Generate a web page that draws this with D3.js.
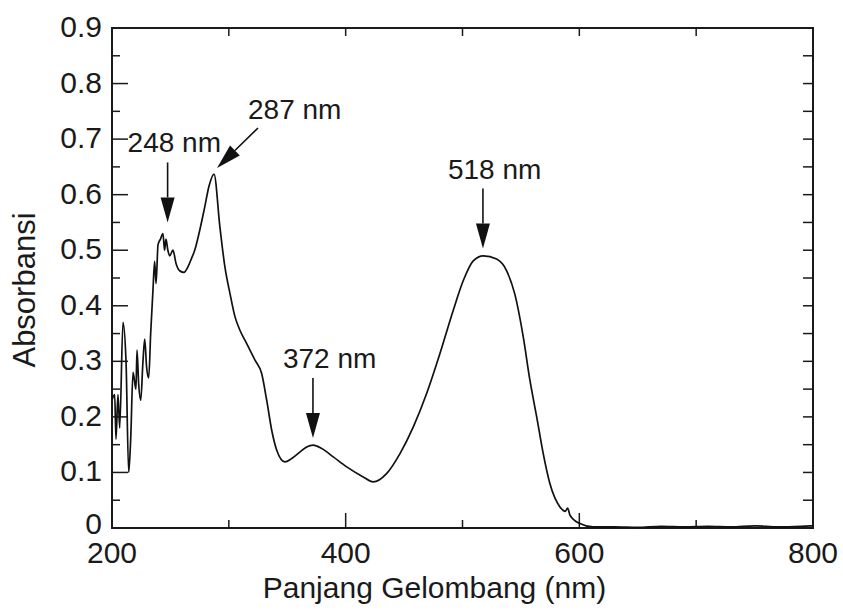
<!DOCTYPE html>
<html>
<head>
<meta charset="utf-8">
<title>Absorbansi</title>
<style>
body { margin: 0; background: #fff; }
text { font-family: "Liberation Sans", Arial, sans-serif; fill: #1a1a1a; }
.frame { fill: none; stroke: #1a1a1a; stroke-width: 2px; }
.tick { stroke: #1a1a1a; stroke-width: 1.5px; }
.spectrum { fill: none; stroke: #111; stroke-width: 1.7px; stroke-linejoin: round; }
.arrow { stroke: #111; stroke-width: 1.6px; }
</style>
</head>
<body>
<script src="https://cdnjs.cloudflare.com/ajax/libs/d3/7.8.5/d3.min.js"></script>
<script>

// spectrum
var wavelength = [200, 202.3, 203.4, 205.1, 206.6, 209.4, 212, 214.3, 216, 218, 220.5, 221.4, 222.8, 224.6, 226.5, 228, 229.6, 231.4,
  233.1, 235.1, 236.5, 237.7, 239.4, 241.5, 243.6, 245, 246.2, 247.8, 249.4, 252.2, 254.8, 257.9, 261.6, 265, 268,
  270.8, 275, 279.3, 283, 287.3, 292.4, 296.7, 301, 305.3, 309.5, 315.3, 322.4, 328.1, 332.4, 336.7, 341, 348,
  353.8, 361, 366.6, 372.3, 379.5, 389.4, 400.9, 415, 423.6, 435, 446.5, 457.9, 469.3, 480.7, 492.1, 500.6, 509.2,
  517.8, 529.2, 537.8, 544.9, 552, 557.7, 563.5, 569.1, 574.8, 583.4, 588, 590, 592, 600.5, 611.6, 630, 650, 670,
  690, 710, 730, 750, 770, 790, 800];
var absorbance = [0.23, 0.24, 0.16, 0.24, 0.18, 0.37, 0.30, 0.10, 0.16, 0.28, 0.25, 0.32, 0.26, 0.23, 0.30, 0.34, 0.29, 0.27,
  0.35, 0.43, 0.48, 0.44, 0.51, 0.52, 0.53, 0.50, 0.52, 0.50, 0.49, 0.50, 0.476, 0.463, 0.46, 0.47, 0.485,
  0.50, 0.535, 0.577, 0.615, 0.637, 0.541, 0.469, 0.422, 0.38, 0.356, 0.332, 0.302, 0.278, 0.23, 0.176, 0.14, 0.119,
  0.125, 0.137, 0.146, 0.149, 0.143, 0.128, 0.110, 0.092, 0.083, 0.098, 0.134, 0.182, 0.242, 0.314, 0.392, 0.445, 0.481,
  0.49, 0.484, 0.463, 0.42, 0.344, 0.266, 0.20, 0.134, 0.08, 0.038, 0.030, 0.036, 0.023, 0.008, 0.002, 0.002, 0.001, 0.003,
  0.002, 0.003, 0.002, 0.004, 0.002, 0.003, 0.004];

var xTicks = [200, 400, 600, 800];
var xMinor = [300, 500, 700];
var yTicks = [0, 0.1, 0.2, 0.3, 0.4, 0.5, 0.6, 0.7, 0.8, 0.9];
var yMinor = [0.05, 0.15, 0.25, 0.35, 0.45, 0.55, 0.65, 0.75, 0.85];

var peakLabels = ["248 nm", "287 nm", "372 nm", "518 nm"];
var peakNm = [247.6, 289.9, 372, 517.5];
var peakTip = [0.55, 0.648, 0.162, 0.503];

var width = 843, height = 612;
var pLeft = 112, pRight = 813, pTop = 28, pBottom = 528;

var x = d3.scaleLinear().domain([200, 800]).range([pLeft, pRight]);
var y = d3.scaleLinear().domain([0, 0.9]).range([pBottom, pTop]);

var svg = d3.select("body").append("svg")
    .attr("width", width)
    .attr("height", height);

// ticks, all pointing inward
var g = svg.append("g");
xTicks.forEach(function(v) {
  g.append("line").attr("class", "tick").attr("x1", x(v)).attr("x2", x(v)).attr("y1", pBottom).attr("y2", pBottom - 15);
});
xMinor.forEach(function(v) {
  g.append("line").attr("class", "tick").attr("x1", x(v)).attr("x2", x(v)).attr("y1", pBottom).attr("y2", pBottom - 8);
});
xTicks.concat(xMinor).forEach(function(v) {
  g.append("line").attr("class", "tick").attr("x1", x(v)).attr("x2", x(v)).attr("y1", pTop).attr("y2", pTop + 8);
});
yTicks.forEach(function(v) {
  g.append("line").attr("class", "tick").attr("x1", pLeft).attr("x2", pLeft + 16).attr("y1", y(v)).attr("y2", y(v));
});
yMinor.forEach(function(v) {
  g.append("line").attr("class", "tick").attr("x1", pLeft).attr("x2", pLeft + 8).attr("y1", y(v)).attr("y2", y(v));
});
yTicks.concat(yMinor).forEach(function(v) {
  g.append("line").attr("class", "tick").attr("x1", pRight).attr("x2", pRight - 10).attr("y1", y(v)).attr("y2", y(v));
});

g.append("rect").attr("class", "frame")
    .attr("x", pLeft).attr("y", pTop)
    .attr("width", pRight - pLeft).attr("height", pBottom - pTop);

// tick labels
svg.append("g").selectAll("text").data(xTicks).enter().append("text")
    .attr("x", function(d) { return x(d); })
    .attr("y", pBottom + 35)
    .attr("text-anchor", "middle")
    .style("font-size", "30px")
    .text(function(d) { return d; });

svg.append("g").selectAll("text").data(yTicks).enter().append("text")
    .attr("x", pLeft - 10)
    .attr("y", function(d) { return y(d) + (d === 0 ? 6 : 9); })
    .attr("text-anchor", "end")
    .style("font-size", "30px")
    .text(function(d) { return d === 0 ? "0" : d3.format(".1f")(d); });

// axis titles
svg.append("text")
    .attr("x", (pLeft + pRight) / 2 - 28)
    .attr("y", 598)
    .attr("text-anchor", "middle")
    .style("font-size", "30px")
    .text("Panjang Gelombang (nm)");

svg.append("text")
    .attr("transform", "translate(35," + ((pTop + pBottom) / 2 + 12) + ")rotate(-90)")
    .attr("text-anchor", "middle")
    .style("font-size", "31px")
    .text("Absorbansi");

// spectrum
var line = d3.line()
    .x(function(d, i) { return x(wavelength[i]); })
    .y(function(d) { return y(d); })
    .curve(d3.curveMonotoneX);

svg.append("path")
    .datum(absorbance)
    .attr("class", "spectrum")
    .attr("d", line);

// peak arrows
var tails = [[0, -60], [41, -40], [0, -60], [0, -60]];
var labelOff = [[-40, -70], [31, -49], [-30, -70], [-35, -70]];
var ann = svg.append("g");
peakLabels.forEach(function(lab, i) {
  var tx = x(peakNm[i]), ty = y(peakTip[i]);
  var sx = tx + tails[i][0], sy = ty + tails[i][1];
  var len = Math.sqrt(tails[i][0] * tails[i][0] + tails[i][1] * tails[i][1]);
  var ux = (sx - tx) / len, uy = (sy - ty) / len;
  var hl = 25, hw = 7;
  var bx = tx + ux * hl, by = ty + uy * hl;
  ann.append("line").attr("class", "arrow")
      .attr("x1", sx).attr("y1", sy).attr("x2", bx).attr("y2", by);
  ann.append("path")
      .attr("fill", "#111")
      .attr("d", "M" + tx + "," + ty +
                 "L" + (bx - uy * hw) + "," + (by + ux * hw) +
                 "L" + (bx + uy * hw) + "," + (by - ux * hw) + "Z");
  ann.append("text")
      .attr("x", tx + labelOff[i][0])
      .attr("y", ty + labelOff[i][1])
      .style("font-size", "28px")
      .text(lab);
});

</script>
</body>
</html>
